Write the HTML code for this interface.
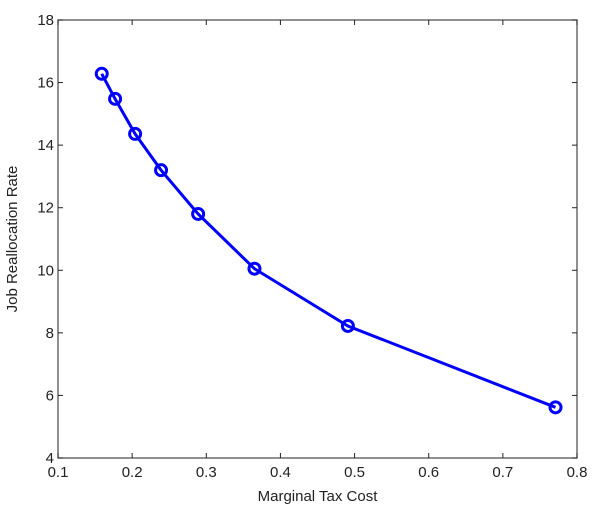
<!DOCTYPE html>
<html><head><meta charset="utf-8"><style>body{margin:0;background:#fff}svg text{font-family:"Liberation Sans",sans-serif;font-size:15px;fill:#222}</style></head>
<body>
<svg id="c" width="600" height="522"></svg>
<script>
const xTicks=[0.1,0.2,0.3,0.4,0.5,0.6,0.7,0.8];
const yTicks=[4,6,8,10,12,14,16,18];
const xVals=[0.159,0.177,0.204,0.239,0.289,0.365,0.491,0.771];
const yVals=[16.28,15.48,14.36,13.2,11.8,10.05,8.22,5.62];
const L=58,R=577,T=20,B=458,NS="http://www.w3.org/2000/svg",svg=document.getElementById('c');
const sx=v=>L+(v-0.1)/0.7*(R-L), sy=v=>B-(v-4)/14*(B-T);
function el(t,a,p){const e=document.createElementNS(NS,t);for(const k in a)e.setAttribute(k,a[k]);(p||svg).appendChild(e);return e;}
const box=el('rect',{x:L,y:T,width:R-L,height:B-T,fill:'none',stroke:'#555','stroke-width':1.3});


xTicks.forEach(t=>{const x=sx(t);
el('line',{x1:x,x2:x,y1:B,y2:B-5,stroke:'#222'});el('line',{x1:x,x2:x,y1:T,y2:T+5,stroke:'#222'});
const tx=el('text',{x:x,y:B+19,'text-anchor':'middle'});tx.textContent=t.toFixed(1);

});
yTicks.forEach(t=>{const y=sy(t);
el('line',{x1:L,x2:L+5,y1:y,y2:y,stroke:'#222'});el('line',{x1:R,x2:R-5,y1:y,y2:y,stroke:'#222'});
const tx=el('text',{x:L-4,y:y+5,'text-anchor':'end'});tx.textContent=t;

});
const xl=el('text',{x:(L+R)/2,y:501,'text-anchor':'middle'});xl.textContent='Marginal Tax Cost';


const yl=el('text',{x:0,y:0,'text-anchor':'middle',transform:`translate(17,${(T+B)/2}) rotate(-90)`});yl.textContent='Job Reallocation Rate';


const line=el('polyline',{points:xVals.map((x,i)=>sx(x)+','+sy(yVals[i])).join(' '),fill:'none',stroke:'#0000ff','stroke-width':3});


xVals.forEach((x,i)=>{const c=el('circle',{cx:sx(x),cy:sy(yVals[i]),r:5.5,fill:'none',stroke:'#0000ff','stroke-width':3});

});
</script>
</body></html>
